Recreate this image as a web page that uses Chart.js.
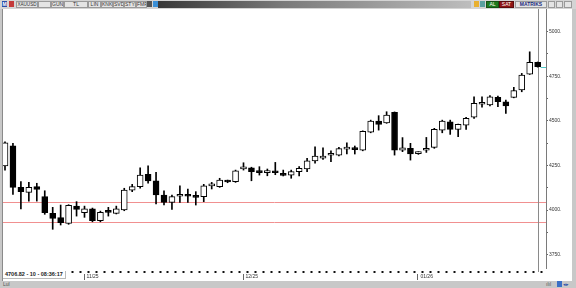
<!DOCTYPE html>
<html><head><meta charset="utf-8">
<script src="https://cdn.jsdelivr.net/npm/chart.js@4.4.1/dist/chart.umd.min.js"></script>
<style>
html,body{margin:0;padding:0;}
body{width:576px;height:288px;position:relative;overflow:hidden;background:#c8c8c8;font-family:"Liberation Sans",Arial,sans-serif;}
#tb{position:absolute;left:0;top:0;width:576px;height:9px;background:#d4d4d4;}
.b{position:absolute;top:1px;height:5px;background:#e4e4e4;border:1px solid #9a9a9a;font-size:5px;line-height:5px;text-align:center;color:#333;white-space:nowrap;overflow:hidden;}
.ic{position:absolute;top:1px;width:5px;height:6px;font-size:5px;line-height:6px;text-align:center;color:#fff;font-weight:bold;}
#grad{position:absolute;top:1px;height:7px;background:linear-gradient(to right,#383838,#7a7a7a 40%,#bdbdbd);}
#leftline{position:absolute;left:2px;top:9px;width:1px;height:272px;background:#8a8a8a;}
#plot{position:absolute;left:3px;top:9px;width:569px;height:272px;background:#fff;}
#wrap{position:absolute;left:3px;top:9px;width:569px;height:272px;}
#info{position:absolute;left:3px;top:271px;height:7px;padding:0 2px;background:#fff;border-right:1px solid #bbb;border-bottom:1px solid #bbb;font-size:5.5px;line-height:7px;font-weight:bold;color:#222;white-space:nowrap;}
.foot{position:absolute;top:282px;font-size:5px;line-height:5px;color:#555;}
</style>
</head><body>
<div id="tb">
  <div class="ic" style="left:2px;background:#2a4fa8">M</div>
  <div class="ic" style="left:9px;background:#c43a3a"></div>
  <div class="b" style="left:16px;width:20px;font-size:4.6px">XAUUSD</div>
  <div class="b" style="left:38px;width:11px"></div>
  <div class="b" style="left:51px;width:11px">GUN</div>
  <div class="b" style="left:64px;width:22px">TL</div>
  <div class="b" style="left:88px;width:11px">LIN</div>
  <div class="b" style="left:101px;width:10px">KNK</div>
  <div class="b" style="left:113px;width:9px">SVD</div>
  <div class="b" style="left:124px;width:10px">STYL</div>
  <div class="b" style="left:136px;width:9px">FMP</div>
  <div class="ic" style="left:147px;background:#555"></div>
  <div class="ic" style="left:153px;background:#3b8fd6"></div>
  <div id="grad" style="left:158px;width:313px"></div>
  <div class="ic" style="left:474px;background:#e8b030"></div>
  <div class="ic" style="left:480px;background:#5aa0a0"></div>
  <div class="b" style="left:486px;width:11px;background:#1f7a1f;color:#fff;border-color:#145214">AL</div>
  <div class="b" style="left:499px;width:13px;background:#8e1414;color:#fff;border-color:#5a0c0c">SAT</div>
  <div class="b" style="left:515px;width:30px;color:#1a2a7a;font-weight:bold">MATRIKS</div>
  <div class="b" style="left:548px;width:5px"></div>
  <div class="b" style="left:556px;width:5px"></div>
  <div class="b" style="left:564px;width:6px"></div>
</div>
<div id="leftline"></div>
<div id="plot"></div>
<div id="wrap"><canvas id="c" width="569" height="272"></canvas></div>
<div id="info"></div>
<div class="foot" style="left:3px">Lul</div>
<div class="foot" style="left:546px">ılıl</div>
<div class="ic" style="left:557px;top:281px;background:#3b6fc6"></div>
<div class="foot" style="left:563px;color:#2a4fa8">◂▸</div>
<script>
// ---- data ----
const categories = [
 '10/20','10/21','10/22','10/23','10/24','10/27','10/28','10/29','10/30','10/31',
 '11/03','11/04','11/05','11/06','11/07','11/10','11/11','11/12','11/13','11/14',
 '11/17','11/18','11/19','11/20','11/21','11/24','11/25','11/26','11/27','11/28',
 '12/01','12/02','12/03','12/04','12/05','12/08','12/09','12/10','12/11','12/12',
 '12/15','12/16','12/17','12/18','12/19','12/22','12/23','12/24','12/26','12/29',
 '12/30','12/31','01/01','01/02','01/05','01/06','01/07','01/08','01/09','01/12',
 '01/13','01/14','01/15','01/16','01/19','01/20','01/21','01/22'];
const openValues = [4247,4360,4127,4099,4131,4075,3981,3957,3925,4022,
 3985,4007,3940,3990,3981,4000,4112,4131,4200,4163,
 4084,4043,4077,4079,4080,4075,4135,4131,4164,4159,
 4231,4237,4212,4210,4219,4200,4196,4215,4230,4276,
 4291,4307,4308,4341,4341,4336,4437,4499,4489,4548,
 4335,4346,4316,4335,4351,4448,4495,4452,4476,4520,
 4593,4589,4632,4607,4632,4673,4762,4828];
const highValues = [4383,4374,4159,4155,4150,4108,4015,4028,4030,4047,
 4022,4011,3994,4015,4022,4122,4144,4237,4248,4211,
 4107,4084,4135,4118,4103,4144,4155,4178,4168,4224,
 4265,4240,4243,4230,4267,4224,4224,4243,4290,4355,
 4349,4332,4351,4377,4359,4444,4504,4529,4551,4550,
 4406,4374,4327,4407,4458,4504,4504,4482,4520,4635,
 4635,4641,4639,4617,4688,4766,4887,4830];
const lowValues = [4224,4088,4006,4050,4050,3976,3892,3916,3920,3966,
 3959,3934,3934,3966,3978,3996,4103,4122,4150,4034,
 4028,4004,4043,4043,4028,4047,4118,4127,4153,4155,
 4224,4164,4196,4192,4198,4191,4178,4191,4215,4262,
 4284,4271,4304,4314,4314,4332,4433,4448,4486,4308,
 4327,4280,4312,4323,4346,4433,4424,4411,4452,4514,
 4576,4583,4579,4542,4629,4663,4760,4801];
const closeValues = [4377,4127,4103,4127,4116,3985,3953,3929,4026,4004,
 4007,3940,3987,3987,4007,4112,4131,4196,4163,4084,
 4043,4075,4079,4077,4071,4136,4137,4168,4157,4220,
 4239,4215,4210,4212,4209,4194,4215,4234,4276,4303,
 4303,4309,4344,4343,4339,4441,4499,4480,4532,4336,
 4348,4314,4323,4337,4452,4499,4452,4480,4514,4598,
 4595,4635,4607,4583,4669,4757,4828,4803];
const yTickValues = [3750,3875,4000,4125,4250,4375,4500,4625,4750,4875,5000];
const yLabeledTicks = [3750,4000,4250,4500,4750,5000];
const monthTickIndex = [10,30,52];
const monthTickLabels = ['11/25','12/25','01/26'];
const levelLines = [4046,3931];
const infoText = '4706.82 - 10 - 08:36:17';

document.getElementById('info').textContent = infoText;
Chart.defaults.font.family = "'Liberation Sans', Arial, sans-serif";

const bodyData = categories.map((c,i)=>({x:i, y:[openValues[i], closeValues[i]]}));
const wickData = categories.map((c,i)=>({x:i, y:[lowValues[i], highValues[i]]}));

const overlay = {
  id:'overlay',
  beforeDatasetsDraw(chart){
    const {ctx, chartArea:a, scales:{x,y}} = chart;
    ctx.save();
    ctx.lineWidth = 1;
    ctx.strokeStyle = '#f19090';
    levelLines.forEach(v=>{
      const py = Math.round(y.getPixelForValue(v))+0.5;
      ctx.beginPath(); ctx.moveTo(a.left,py); ctx.lineTo(a.right,py); ctx.stroke();
    });
    const lx = Math.round(x.getPixelForValue(categories.length-1))+0.5;
    ctx.strokeStyle = '#8a8a8a';
    ctx.beginPath(); ctx.moveTo(lx,a.top); ctx.lineTo(lx,a.bottom+4); ctx.stroke();
    ctx.restore();
  },
  afterDatasetsDraw(chart){
    const {ctx, chartArea:a, scales:{x,y}} = chart;
    ctx.save();
    const lx = x.getPixelForValue(categories.length-1);
    const ly = Math.round(y.getPixelForValue(closeValues[closeValues.length-1]))+0.5;
    ctx.strokeStyle = '#4cc6c6'; ctx.lineWidth = 1;
    ctx.beginPath(); ctx.moveTo(lx+3,ly); ctx.lineTo(a.right,ly); ctx.stroke();
    ctx.restore();
  },
  afterDraw(chart){
    const {ctx, chartArea:a, scales:{x}} = chart;
    ctx.save();
    ctx.strokeStyle = '#666'; ctx.lineWidth = 1;
    monthTickIndex.forEach(i=>{
      const px = Math.round(x.getPixelForValue(i))-0.5;
      ctx.beginPath(); ctx.moveTo(px,a.bottom+6); ctx.lineTo(px,a.bottom+12); ctx.stroke();
    });
    ctx.restore();
  }
};

new Chart(document.getElementById('c'), {
  type:'bar',
  data:{ datasets:[
    { label:'body', data:bodyData, grouped:false, order:0,
      barThickness:6, minBarLength:2, borderWidth:1, borderColor:'#000', borderSkipped:false,
      backgroundColor: ctx => (closeValues[ctx.dataIndex] >= openValues[ctx.dataIndex] ? '#ffffff' : '#000000') },
    { label:'wick', data:wickData, grouped:false, order:1,
      barThickness:1, borderWidth:0, backgroundColor:'#000' }
  ]},
  options:{
    responsive:false, animation:false, events:[],
    layout:{padding:0},
    plugins:{legend:{display:false}, tooltip:{enabled:false}},
    scales:{
      x:{ type:'linear', min:-0.2516, max:68.05, offset:false,
        afterBuildTicks: s => { s.ticks = categories.map((c,i)=>({value:i})); },
        afterFit: s => { s.height = 13; s.paddingLeft = 0; s.paddingRight = 0; },
        grid:{ drawOnChartArea:false, drawTicks:true, tickLength:5, tickWidth:2, tickColor:'#111', tickBorderDash:[0,3,2,10] },
        border:{ display:false },
        ticks:{ autoSkip:false, maxRotation:0, minRotation:0, align:'start', padding:1, labelOffset:2,
          font:{size:5}, color:'#333',
          callback: v => { const k = monthTickIndex.indexOf(v); return k >= 0 ? monthTickLabels[k] : ''; } }
      },
      y:{ position:'right', min:3675, max:5127,
        afterBuildTicks: s => { s.ticks = yTickValues.map(v=>({value:v})); },
        afterFit: s => { s.width = 26; s.paddingTop = 0; s.paddingBottom = 0; },
        grid:{ drawOnChartArea:false, drawTicks:true, tickLength:2, tickColor:'#666' },
        border:{ display:true, color:'#7a7a7a', width:1 },
        ticks:{ padding:1, font:{size:5}, color:'#333',
          callback: v => (yLabeledTicks.includes(v) ? v + '.' : '') }
      }
    }
  },
  plugins:[overlay]
});
</script>
</body></html>
